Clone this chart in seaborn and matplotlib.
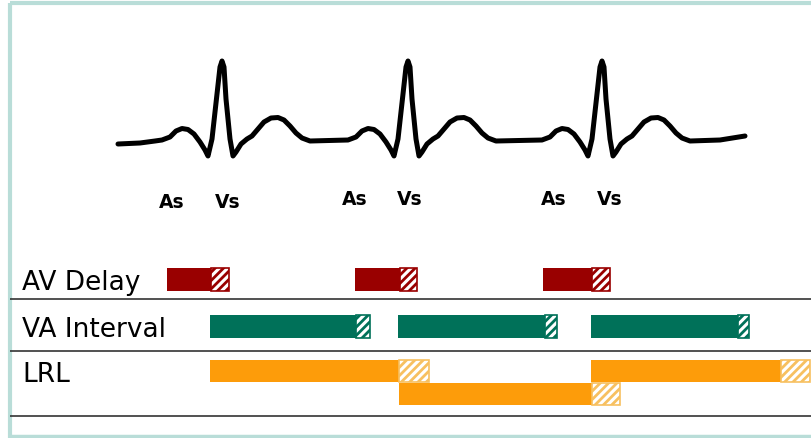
import numpy as np
import pandas as pd
import matplotlib
matplotlib.use("Agg")
import matplotlib.pyplot as plt
import seaborn as sns


# ECG trace: one complex, relative to its R peak
QRS_DX = [-60, -52, -46, -40, -34, -28, -22, -17, -14, -10, -5, -2, 0, 2, 4, 8,
          11, 14, 19, 25, 30, 36, 42, 49, 56, 62, 68, 74, 80, 88]
QRS_Y = [141, 138, 132, 129.5, 130.5, 135, 143, 151, 157, 140, 95, 68, 62, 68,
         100, 140, 157, 153, 145, 140, 137, 130, 123, 119, 118.5, 121, 127, 134,
         139, 142]
R_PEAKS = [222, 408, 602]
LEAD_IN_X = [118, 140, 155]
LEAD_IN_Y = [145, 144, 142]
TAIL_X = [720, 745]
TAIL_Y = [141, 137]

# marker labels under the trace
AS_X = [172, 355, 554]
VS_X = [228, 410, 610]
MARK_BASE = [208, 205, 205]

# timing rows: start, end of solid part, end of hatched part
AV_START = [167, 355, 543]
AV_SOLID = [211, 400, 592]
AV_END = [229, 417, 610]

VA_START = [210, 398, 591]
VA_SOLID = [356, 545, 738]
VA_END = [370, 557, 749]

LRL_START = [210, 399, 591]
LRL_SOLID = [399, 592, 781]
LRL_END = [429, 620, 810]
LRL_LEVEL = [0, 1, 0]

ROW_LABELS = ["AV Delay", "VA Interval", "LRL"]
ROW_BASE = [290, 337, 382]
SEPARATORS = [300, 351.5, 417]

AV_COLOR = "#990000"
VA_COLOR = "#007159"
LRL_COLOR = "#fd9c0a"

sns.set_style("white")
plt.rcParams["font.family"] = ["DejaVu Sans"]
plt.rcParams["hatch.linewidth"] = 2.0

fig = plt.figure(figsize=(8.11, 4.39), dpi=100)
ax = fig.add_axes([0, 0, 1, 1])
ax.set_xlim(0, 811)
ax.set_ylim(439, 0)
ax.axis("off")

# frame
frame = "#b9ddd8"
ax.plot([10, 10], [4, 439], color=frame, lw=3, solid_capstyle="butt")
ax.plot([10, 811], [4, 4], color=frame, lw=3, solid_capstyle="butt")
ax.plot([10, 811], [437.5, 437.5], color=frame, lw=2.5, solid_capstyle="butt")

# ECG
xs = list(LEAD_IN_X)
ys = list(LEAD_IN_Y)
for r in R_PEAKS:
    xs += [r + d for d in QRS_DX]
    ys += QRS_Y
xs += TAIL_X
ys += TAIL_Y
ecg = pd.DataFrame({"t": xs, "v": ys})
sns.lineplot(data=ecg, x="t", y="v", sort=False, estimator=None, color="black",
             lw=3.6, ax=ax, solid_joinstyle="round", solid_capstyle="round")

for a, v, b in zip(AS_X, VS_X, MARK_BASE):
    ax.text(a, b, "As", fontsize=13.5, fontweight="bold", ha="center",
            va="baseline", color="black")
    ax.text(v, b, "Vs", fontsize=13.5, fontweight="bold", ha="center",
            va="baseline", color="black")

# separators
ax.hlines(SEPARATORS, 10, 811, color="#333333", lw=1.2)

# row labels
for lab, b in zip(ROW_LABELS, ROW_BASE):
    ax.text(22, b, lab, fontsize=19, ha="left", va="baseline", color="black")


def draw_row(starts, solids, ends, yc, h, color, hatch_edge, hatch):
    starts = np.array(starts)
    solids = np.array(solids)
    ends = np.array(ends)
    ax.barh(yc, solids - starts, left=starts, height=h, color=color, lw=0)
    ax.barh(yc, ends - solids, left=solids, height=h, color="white",
            edgecolor=hatch_edge, hatch=hatch, lw=1.2)


draw_row(AV_START, AV_SOLID, AV_END, 280, 23, AV_COLOR, AV_COLOR, "////")
draw_row(VA_START, VA_SOLID, VA_END, 327, 23, VA_COLOR, VA_COLOR, "////")
lrl_y = 372 + 23 * np.array(LRL_LEVEL)
draw_row(LRL_START, LRL_SOLID, LRL_END, lrl_y, 22.5, LRL_COLOR, "#f7c060", "////")

fig.savefig("out.png", dpi=100)
